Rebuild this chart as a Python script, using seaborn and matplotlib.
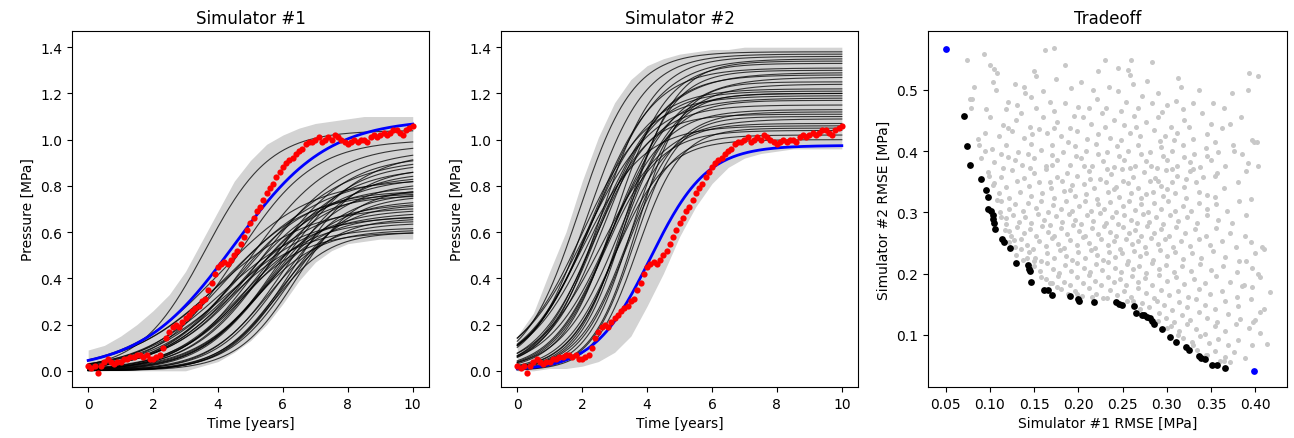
import numpy as np
import pandas as pd
import matplotlib
matplotlib.use("Agg")
import matplotlib.pyplot as plt
import seaborn as sns

# observed pressure (red dots), one reading every 0.1 year
obs_p = [0.02, 0.01, 0.02, -0.01, 0.02, 0.04, 0.05, 0.04, 0.03, 0.04,
         0.04, 0.05, 0.05, 0.06, 0.06, 0.07, 0.07, 0.06, 0.07, 0.05,
         0.05, 0.06, 0.07, 0.10, 0.14, 0.17, 0.19, 0.20, 0.19, 0.21,
         0.23, 0.24, 0.26, 0.27, 0.28, 0.30, 0.31, 0.35, 0.38, 0.42,
         0.45, 0.46, 0.47, 0.46, 0.48, 0.50, 0.52, 0.55, 0.58, 0.61,
         0.64, 0.66, 0.69, 0.71, 0.74, 0.77, 0.79, 0.81, 0.84, 0.86,
         0.88, 0.90, 0.91, 0.92, 0.94, 0.95, 0.96, 0.98, 0.99, 0.99,
         1.00, 1.01, 0.99, 1.00, 1.01, 1.00, 1.02, 1.01, 1.00, 0.99,
         0.98, 0.99, 1.00, 0.99, 1.00, 1.00, 0.99, 1.01, 1.02, 1.01,
         1.02, 1.03, 1.02, 1.03, 1.04, 1.04, 1.03, 1.02, 1.04, 1.05, 1.06]
obs_t = np.linspace(0, 10, len(obs_p))

# spread of all sampled runs (gray band), read every 0.5 year
env_t = np.linspace(0, 10, 21)
sim1_low = [0.0, 0.0, 0.0, 0.0, 0.0, 0.0, 0.0, 0.02, 0.04, 0.08, 0.13,
            0.20, 0.29, 0.39, 0.47, 0.52, 0.55, 0.56, 0.57, 0.57, 0.57]
sim1_high = [0.09, 0.11, 0.15, 0.20, 0.26, 0.33, 0.43, 0.56, 0.69, 0.82, 0.91,
             0.98, 1.02, 1.05, 1.07, 1.08, 1.09, 1.10, 1.10, 1.10, 1.10]
sim2_low = [0.0, 0.0, 0.01, 0.01, 0.02, 0.04, 0.08, 0.15, 0.28, 0.42, 0.58,
            0.71, 0.81, 0.88, 0.92, 0.94, 0.95, 0.96, 0.96, 0.96, 0.96]
sim2_high = [0.15, 0.25, 0.43, 0.60, 0.82, 1.01, 1.16, 1.26, 1.32, 1.35, 1.37,
             1.38, 1.39, 1.39, 1.40, 1.40, 1.40, 1.40, 1.40, 1.40, 1.40]

# pareto runs: plateau, half-rise time, rate
pareto1_amp = [1.04, 1.00, 0.98, 0.96, 0.93, 0.92, 0.90, 0.88, 0.86, 0.84,
               0.82, 0.80, 0.78, 0.78, 0.77, 0.77, 0.76, 0.76, 0.74, 0.73,
               0.72, 0.70, 0.69, 0.67, 0.67, 0.66, 0.65, 0.64, 0.62, 0.61,
               0.60, 0.60, 0.88, 0.95, 0.79, 0.83, 0.71, 0.85]
pareto1_mid = [3.6, 4.6, 5.0, 5.3, 5.6, 5.0, 5.8, 5.4, 6.0, 5.1,
               5.7, 4.8, 4.5, 5.2, 4.2, 5.9, 4.9, 6.2, 5.5, 4.6,
               6.0, 5.0, 4.4, 5.3, 4.1, 5.8, 4.7, 5.5, 4.3, 5.1,
               4.6, 5.7, 6.3, 6.0, 6.4, 4.0, 3.9, 4.4]
pareto1_rate = [1.00, 0.85, 0.80, 0.75, 0.85, 0.70, 0.90, 0.80, 0.95, 0.75,
                0.85, 0.80, 0.85, 0.90, 0.80, 1.00, 0.95, 1.05, 0.90, 0.75,
                1.10, 0.85, 0.70, 1.00, 0.75, 1.10, 0.90, 1.05, 0.85, 1.00,
                0.95, 1.15, 1.00, 0.80, 1.10, 0.70, 0.70, 0.65]

pareto2_amp = [1.38, 1.37, 1.36, 1.35, 1.33, 1.31, 1.30, 1.28, 1.27, 1.22,
               1.21, 1.20, 1.20, 1.19, 1.17, 1.15, 1.13, 1.11, 1.10, 1.09,
               1.07, 1.06, 1.05, 1.04, 1.02, 1.00, 1.34, 1.25, 1.18, 1.12,
               1.29, 1.24]
pareto2_mid = [1.9, 2.2, 2.6, 2.4, 3.0, 2.3, 3.3, 2.7, 3.0, 2.2,
               2.5, 2.9, 3.5, 2.0, 3.2, 2.4, 2.8, 2.3, 3.6, 2.6,
               3.1, 2.0, 3.7, 2.7, 3.3, 3.0, 3.4, 3.7, 2.1, 3.4,
               2.5, 3.2]
pareto2_rate = [1.20, 1.15, 1.20, 1.00, 1.25, 1.05, 1.35, 1.10, 1.00, 1.05,
                1.15, 1.20, 1.45, 1.00, 1.30, 1.10, 1.15, 1.20, 1.50, 1.00,
                1.30, 1.05, 1.50, 1.20, 1.40, 1.25, 1.35, 1.45, 0.95, 1.30,
                0.95, 1.10]

# best run for each simulator (blue): plateau, half-rise time, rate
best1 = (1.09, 4.5, 0.70)
best2 = (0.975, 4.1, 1.15)

# tradeoff: RMSE of every sampled run
gray_pts = [
    (0.074, 0.549), (0.093, 0.558), (0.162, 0.565), (0.172, 0.569), (0.230, 0.548),
    (0.260, 0.549), (0.283, 0.546), (0.100, 0.540), (0.105, 0.534), (0.108, 0.527),
    (0.150, 0.530), (0.152, 0.522), (0.185, 0.540), (0.222, 0.530), (0.245, 0.536),
    (0.256, 0.532), (0.258, 0.524), (0.278, 0.515), (0.313, 0.520), (0.393, 0.528),
    (0.403, 0.523), (0.203, 0.512), (0.175, 0.518), (0.128, 0.510), (0.138, 0.505),
    (0.082, 0.505), (0.104, 0.512), (0.107, 0.500), (0.140, 0.495), (0.147, 0.488),
    (0.160, 0.498), (0.192, 0.503), (0.216, 0.500), (0.235, 0.505), (0.245, 0.498),
    (0.262, 0.510), (0.272, 0.490), (0.290, 0.495), (0.300, 0.475), (0.316, 0.505),
    (0.336, 0.500), (0.352, 0.478), (0.374, 0.494), (0.392, 0.500), (0.080, 0.485),
    (0.120, 0.480), (0.131, 0.475), (0.152, 0.470), (0.168, 0.480), (0.185, 0.478),
    (0.200, 0.472), (0.221, 0.485), (0.254, 0.480), (0.283, 0.478), (0.310, 0.482),
    (0.330, 0.478), (0.365, 0.470), (0.231, 0.470), (0.096, 0.468),
    (0.100, 0.455), (0.115, 0.443), (0.130, 0.450), (0.145, 0.440), (0.160, 0.455),
    (0.176, 0.448), (0.190, 0.438), (0.205, 0.455), (0.214, 0.445), (0.227, 0.462),
    (0.240, 0.450), (0.252, 0.443), (0.263, 0.458), (0.277, 0.447), (0.290, 0.455),
    (0.305, 0.440), (0.320, 0.450), (0.340, 0.462), (0.350, 0.445), (0.384, 0.455),
    (0.094, 0.430), (0.110, 0.425), (0.125, 0.432), (0.138, 0.422), (0.165, 0.430),
    (0.180, 0.425), (0.198, 0.432), (0.222, 0.428), (0.236, 0.422), (0.258, 0.430),
    (0.270, 0.424), (0.285, 0.435), (0.298, 0.425), (0.312, 0.430), (0.330, 0.420),
    (0.345, 0.428), (0.362, 0.438), (0.396, 0.418), (0.402, 0.415), (0.372, 0.445),
    (0.155, 0.436),
    (0.088, 0.410), (0.102, 0.404), (0.118, 0.410), (0.132, 0.398), (0.146, 0.412),
    (0.158, 0.402), (0.170, 0.410), (0.183, 0.398), (0.196, 0.408), (0.209, 0.400),
    (0.220, 0.412), (0.232, 0.398), (0.244, 0.408), (0.256, 0.400), (0.268, 0.410),
    (0.281, 0.398), (0.293, 0.406), (0.306, 0.400), (0.318, 0.410), (0.331, 0.396),
    (0.344, 0.405), (0.358, 0.398), (0.376, 0.400), (0.392, 0.380), (0.403, 0.375),
    (0.090, 0.388), (0.105, 0.382), (0.120, 0.390), (0.136, 0.378), (0.150, 0.388),
    (0.163, 0.376), (0.176, 0.386), (0.190, 0.378), (0.203, 0.388), (0.215, 0.376),
    (0.228, 0.384), (0.240, 0.374), (0.252, 0.386), (0.264, 0.376), (0.276, 0.384),
    (0.289, 0.372), (0.300, 0.386), (0.312, 0.375), (0.326, 0.382), (0.338, 0.374),
    (0.350, 0.386), (0.366, 0.376), (0.385, 0.395),
    (0.098, 0.366), (0.112, 0.358), (0.125, 0.369), (0.139, 0.356), (0.150, 0.364),
    (0.163, 0.370), (0.176, 0.357), (0.187, 0.365), (0.199, 0.359), (0.212, 0.368),
    (0.224, 0.355), (0.237, 0.363), (0.249, 0.370), (0.262, 0.358), (0.274, 0.366),
    (0.287, 0.356), (0.299, 0.369), (0.312, 0.360), (0.326, 0.367), (0.341, 0.357),
    (0.357, 0.365), (0.390, 0.368),
    (0.105, 0.348), (0.118, 0.341), (0.131, 0.351), (0.144, 0.343), (0.156, 0.349),
    (0.169, 0.340), (0.181, 0.352), (0.193, 0.344), (0.206, 0.347), (0.218, 0.339),
    (0.231, 0.350), (0.243, 0.342), (0.256, 0.348), (0.268, 0.340), (0.281, 0.351),
    (0.293, 0.343), (0.306, 0.349), (0.319, 0.341), (0.333, 0.350), (0.365, 0.339),
    (0.110, 0.331), (0.122, 0.324), (0.134, 0.334), (0.147, 0.326), (0.159, 0.332),
    (0.172, 0.323), (0.184, 0.335), (0.196, 0.327), (0.209, 0.330), (0.221, 0.322),
    (0.234, 0.333), (0.246, 0.325), (0.259, 0.331), (0.271, 0.323), (0.284, 0.334),
    (0.296, 0.326), (0.309, 0.332), (0.322, 0.324), (0.337, 0.333), (0.355, 0.325),
    (0.395, 0.322),
    (0.112, 0.318), (0.121, 0.305), (0.128, 0.314), (0.137, 0.302), (0.143, 0.316),
    (0.152, 0.307), (0.158, 0.319), (0.166, 0.301), (0.171, 0.312), (0.180, 0.305),
    (0.186, 0.318), (0.193, 0.303), (0.201, 0.311), (0.208, 0.319), (0.214, 0.302),
    (0.222, 0.313), (0.229, 0.306), (0.236, 0.317), (0.243, 0.301), (0.250, 0.310),
    (0.257, 0.318), (0.264, 0.304), (0.271, 0.313), (0.279, 0.301), (0.286, 0.316),
    (0.293, 0.306), (0.301, 0.318), (0.309, 0.303), (0.318, 0.311), (0.327, 0.302),
    (0.336, 0.316), (0.346, 0.305), (0.356, 0.313), (0.368, 0.302), (0.382, 0.318),
    (0.113, 0.292), (0.118, 0.281), (0.126, 0.296), (0.133, 0.285), (0.140, 0.293),
    (0.147, 0.282), (0.154, 0.297), (0.161, 0.288), (0.168, 0.280), (0.175, 0.294),
    (0.182, 0.284), (0.189, 0.298), (0.196, 0.287), (0.203, 0.281), (0.210, 0.295),
    (0.217, 0.286), (0.224, 0.299), (0.231, 0.283), (0.238, 0.292), (0.245, 0.281),
    (0.252, 0.296), (0.259, 0.288), (0.266, 0.282), (0.273, 0.297), (0.280, 0.285),
    (0.288, 0.293), (0.296, 0.281), (0.304, 0.296), (0.313, 0.286), (0.323, 0.292),
    (0.334, 0.282), (0.345, 0.295), (0.358, 0.287), (0.374, 0.283), (0.390, 0.296),
    (0.117, 0.271), (0.124, 0.262), (0.131, 0.276), (0.138, 0.266), (0.145, 0.273),
    (0.152, 0.261), (0.159, 0.278), (0.166, 0.268), (0.173, 0.262), (0.180, 0.275),
    (0.187, 0.265), (0.194, 0.279), (0.201, 0.269), (0.208, 0.261), (0.215, 0.274),
    (0.222, 0.264), (0.229, 0.277), (0.236, 0.268), (0.243, 0.262), (0.250, 0.276),
    (0.257, 0.266), (0.264, 0.272), (0.271, 0.261), (0.278, 0.277), (0.285, 0.267),
    (0.293, 0.273), (0.302, 0.262), (0.311, 0.276), (0.321, 0.266), (0.332, 0.273),
    (0.344, 0.262), (0.356, 0.275), (0.371, 0.266), (0.388, 0.262), (0.408, 0.243),
    (0.121, 0.252), (0.128, 0.243), (0.135, 0.257), (0.142, 0.247), (0.149, 0.241),
    (0.156, 0.254), (0.163, 0.245), (0.170, 0.258), (0.177, 0.249), (0.184, 0.242),
    (0.191, 0.255), (0.198, 0.246), (0.205, 0.259), (0.212, 0.250), (0.219, 0.242),
    (0.226, 0.256), (0.233, 0.247), (0.240, 0.253), (0.247, 0.241), (0.254, 0.257),
    (0.261, 0.248), (0.268, 0.254), (0.275, 0.243), (0.282, 0.258), (0.290, 0.249),
    (0.298, 0.256), (0.307, 0.244), (0.316, 0.253), (0.326, 0.245), (0.337, 0.257),
    (0.349, 0.247), (0.362, 0.254), (0.378, 0.244), (0.395, 0.252),
    (0.130, 0.231), (0.137, 0.223), (0.144, 0.236), (0.151, 0.226), (0.158, 0.221),
    (0.165, 0.234), (0.172, 0.225), (0.179, 0.238), (0.186, 0.229), (0.193, 0.222),
    (0.200, 0.235), (0.207, 0.226), (0.214, 0.239), (0.221, 0.230), (0.228, 0.222),
    (0.235, 0.236), (0.242, 0.227), (0.249, 0.233), (0.256, 0.221), (0.263, 0.237),
    (0.270, 0.228), (0.277, 0.234), (0.284, 0.223), (0.292, 0.238), (0.300, 0.229),
    (0.309, 0.235), (0.318, 0.224), (0.328, 0.233), (0.339, 0.226), (0.352, 0.237),
    (0.366, 0.227), (0.382, 0.221), (0.400, 0.233),
    (0.150, 0.213), (0.157, 0.204), (0.164, 0.217), (0.171, 0.207), (0.178, 0.201),
    (0.185, 0.214), (0.192, 0.205), (0.199, 0.218), (0.206, 0.209), (0.213, 0.202),
    (0.220, 0.215), (0.227, 0.206), (0.234, 0.219), (0.241, 0.210), (0.248, 0.203),
    (0.255, 0.216), (0.262, 0.207), (0.269, 0.213), (0.276, 0.201), (0.283, 0.217),
    (0.291, 0.208), (0.299, 0.214), (0.308, 0.203), (0.317, 0.212), (0.327, 0.205),
    (0.338, 0.216), (0.350, 0.206), (0.364, 0.213), (0.379, 0.202), (0.396, 0.209),
    (0.163, 0.192), (0.170, 0.184), (0.177, 0.196), (0.184, 0.187), (0.191, 0.181),
    (0.198, 0.194), (0.205, 0.185), (0.212, 0.197), (0.219, 0.188), (0.226, 0.182),
    (0.233, 0.195), (0.240, 0.186), (0.247, 0.192), (0.254, 0.181), (0.261, 0.196),
    (0.268, 0.187), (0.275, 0.193), (0.283, 0.182), (0.291, 0.197), (0.300, 0.188),
    (0.310, 0.194), (0.320, 0.183), (0.331, 0.191), (0.343, 0.185), (0.356, 0.196),
    (0.371, 0.186), (0.387, 0.181), (0.403, 0.199),
    (0.180, 0.175), (0.188, 0.166), (0.196, 0.172), (0.204, 0.163), (0.212, 0.176),
    (0.220, 0.167), (0.228, 0.161), (0.236, 0.174), (0.244, 0.165), (0.252, 0.171),
    (0.260, 0.162), (0.268, 0.176), (0.276, 0.168), (0.285, 0.161), (0.294, 0.173),
    (0.303, 0.165), (0.313, 0.171), (0.324, 0.162), (0.336, 0.175), (0.349, 0.166),
    (0.363, 0.172), (0.379, 0.162), (0.396, 0.178),
    (0.272, 0.152), (0.280, 0.145), (0.289, 0.156), (0.297, 0.148), (0.306, 0.141),
    (0.314, 0.154), (0.323, 0.146), (0.333, 0.158), (0.343, 0.149), (0.354, 0.142),
    (0.366, 0.155), (0.380, 0.147), (0.395, 0.158), (0.410, 0.143),
    (0.291, 0.135), (0.299, 0.127), (0.308, 0.121), (0.317, 0.133), (0.326, 0.125),
    (0.336, 0.138), (0.346, 0.128), (0.357, 0.121), (0.369, 0.134), (0.383, 0.126),
    (0.398, 0.121), (0.405, 0.138),
    (0.305, 0.115), (0.314, 0.107), (0.323, 0.118), (0.333, 0.110), (0.343, 0.102),
    (0.354, 0.115), (0.366, 0.106), (0.378, 0.118), (0.393, 0.112), (0.405, 0.103),
    (0.318, 0.095), (0.328, 0.088), (0.338, 0.098), (0.348, 0.086), (0.358, 0.094),
    (0.369, 0.083), (0.381, 0.091), (0.396, 0.084), (0.413, 0.085),
    (0.334, 0.075), (0.344, 0.068), (0.355, 0.073), (0.366, 0.064), (0.376, 0.072),
    (0.388, 0.062), (0.360, 0.058), (0.372, 0.055),
    (0.417, 0.170), (0.410, 0.240), (0.405, 0.195), (0.400, 0.125), (0.385, 0.180),
    (0.390, 0.220), (0.399, 0.415), (0.380, 0.350), (0.375, 0.410),
    (0.077, 0.485), (0.079, 0.470), (0.086, 0.420), (0.094, 0.400), (0.099, 0.360),
    (0.104, 0.345), (0.108, 0.320), (0.111, 0.300), (0.118, 0.290), (0.122, 0.270),
    (0.127, 0.255), (0.135, 0.240), (0.142, 0.225), (0.150, 0.220), (0.158, 0.195),
    (0.168, 0.185), (0.176, 0.178), (0.198, 0.167), (0.215, 0.162), (0.232, 0.160),
    (0.255, 0.156), (0.262, 0.155), (0.270, 0.142), (0.290, 0.122), (0.300, 0.112),
    (0.313, 0.100), (0.330, 0.083), (0.345, 0.068), (0.365, 0.057),
    (0.118, 0.468), (0.135, 0.462), (0.172, 0.465), (0.195, 0.458), (0.212, 0.470),
    (0.248, 0.466), (0.268, 0.470), (0.295, 0.463), (0.318, 0.468), (0.120, 0.437),
    (0.148, 0.428), (0.172, 0.438), (0.188, 0.415), (0.210, 0.420), (0.230, 0.440),
    (0.248, 0.418), (0.265, 0.440), (0.292, 0.416), (0.308, 0.418), (0.325, 0.440),
    (0.355, 0.415), (0.112, 0.395), (0.128, 0.385), (0.143, 0.395), (0.170, 0.393),
    (0.197, 0.392), (0.222, 0.395), (0.246, 0.392), (0.271, 0.395), (0.296, 0.392),
    (0.320, 0.390), (0.345, 0.392), (0.115, 0.372), (0.145, 0.372), (0.170, 0.378),
    (0.206, 0.375), (0.232, 0.371), (0.258, 0.373), (0.282, 0.376), (0.306, 0.371),
    (0.330, 0.371), (0.355, 0.360), (0.168, 0.350), (0.213, 0.355), (0.250, 0.352),
    (0.290, 0.352), (0.322, 0.355), (0.190, 0.336), (0.240, 0.338), (0.276, 0.330),
    (0.345, 0.328), (0.300, 0.338),
]

# pareto front (black)
front_x = [0.071, 0.074, 0.078, 0.090, 0.095, 0.098, 0.098, 0.101, 0.103, 0.104,
           0.105, 0.106, 0.114, 0.116, 0.123, 0.129, 0.143, 0.144, 0.145, 0.147,
           0.161, 0.166, 0.170, 0.191, 0.200, 0.201, 0.218, 0.243, 0.246, 0.249,
           0.263, 0.265, 0.272, 0.274, 0.278, 0.281, 0.283, 0.285, 0.295, 0.304,
           0.311, 0.322, 0.325, 0.336, 0.339, 0.343, 0.351, 0.357, 0.366]
front_y = [0.458, 0.409, 0.378, 0.355, 0.337, 0.325, 0.305, 0.303, 0.296, 0.289,
           0.283, 0.273, 0.256, 0.251, 0.242, 0.218, 0.214, 0.208, 0.205, 0.187,
           0.174, 0.173, 0.165, 0.163, 0.158, 0.155, 0.154, 0.153, 0.151, 0.149,
           0.147, 0.135, 0.133, 0.132, 0.130, 0.127, 0.123, 0.118, 0.110, 0.097,
           0.089, 0.080, 0.076, 0.066, 0.062, 0.060, 0.051, 0.051, 0.046]

# best single-simulator runs (blue)
best_x = [0.050, 0.399]
best_y = [0.567, 0.041]


def logistic(t, amp, mid, rate):
    return amp / (1 + np.exp(-rate * (t - mid)))


t = np.linspace(0, 10, 201)


def runs_frame(amps, mids, rates):
    frames = []
    for i, (a, m, r) in enumerate(zip(amps, mids, rates)):
        frames.append(pd.DataFrame({"t": t, "p": logistic(t, a, m, r), "run": i}))
    return pd.concat(frames)


runs1 = runs_frame(pareto1_amp, pareto1_mid, pareto1_rate)
runs2 = runs_frame(pareto2_amp, pareto2_mid, pareto2_rate)

fig = plt.figure(figsize=(12.94, 4.39), dpi=100)
ax1 = fig.add_axes([0.0556, 0.1162, 0.2759, 0.8109])
ax2 = fig.add_axes([0.3872, 0.1162, 0.2759, 0.8109])
ax3 = fig.add_axes([0.7172, 0.1162, 0.2774, 0.8109])

panels = [(ax1, sim1_low, sim1_high, runs1, best1, "Simulator #1"),
          (ax2, sim2_low, sim2_high, runs2, best2, "Simulator #2")]
for ax, low, high, runs, best, title in panels:
    ax.fill_between(env_t, low, high, color="lightgray", lw=0)
    sns.lineplot(data=runs, x="t", y="p", units="run", estimator=None,
                 color="k", lw=0.8, alpha=0.75, ax=ax, legend=False)
    sns.lineplot(x=t, y=logistic(t, *best), color="b", lw=2, ax=ax)
    sns.scatterplot(x=obs_t, y=obs_p, color="r", s=20, linewidth=0, ax=ax, zorder=5)
    ax.set_xlim(-0.5, 10.5)
    ax.set_ylim(-0.07, 1.47)
    ax.set_xticks([0, 2, 4, 6, 8, 10])
    ax.set_yticks([0.0, 0.2, 0.4, 0.6, 0.8, 1.0, 1.2, 1.4])
    ax.set_title(title)
    ax.set_xlabel("Time [years]")
    ax.set_ylabel("Pressure [MPa]")

gray = np.array(gray_pts)
sns.scatterplot(x=gray[:, 0], y=gray[:, 1], color="#c8c8c8", s=13, linewidth=0, ax=ax3)
sns.scatterplot(x=front_x, y=front_y, color="k", s=24, linewidth=0, ax=ax3)
sns.scatterplot(x=best_x, y=best_y, color="b", s=24, linewidth=0, ax=ax3)
ax3.set_xlim(0.030, 0.436)
ax3.set_ylim(0.015, 0.596)
ax3.set_xticks([0.05, 0.10, 0.15, 0.20, 0.25, 0.30, 0.35, 0.40])
ax3.set_yticks([0.1, 0.2, 0.3, 0.4, 0.5])
ax3.set_title("Tradeoff")
ax3.set_xlabel("Simulator #1 RMSE [MPa]")
ax3.set_ylabel("Simulator #2 RMSE [MPa]")

fig.savefig("out.png", dpi=100)
